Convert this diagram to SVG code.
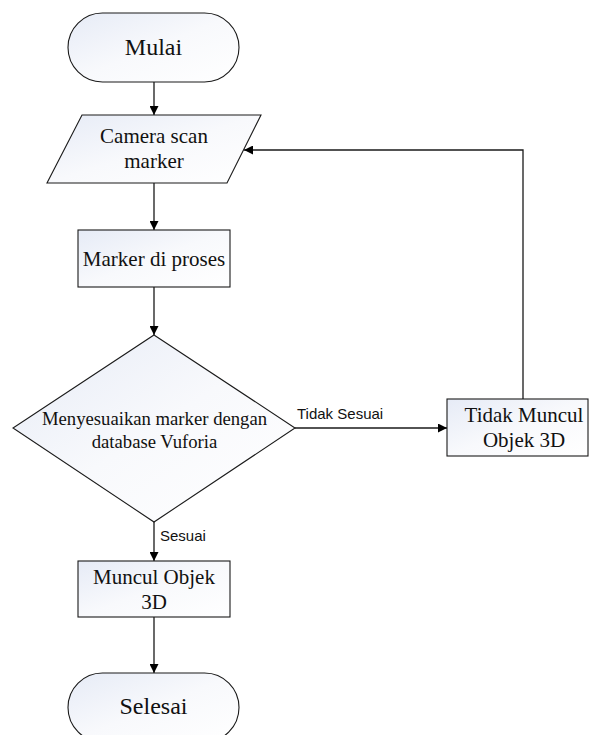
<svg xmlns="http://www.w3.org/2000/svg" width="590" height="735" viewBox="0 0 590 735">
  <defs>
    <linearGradient id="shapeFill" x1="0" y1="0" x2="1" y2="1">
      <stop offset="0" stop-color="#e6ebf6"/>
      <stop offset="0.5" stop-color="#f8f9fc"/>
      <stop offset="1" stop-color="#ffffff"/>
    </linearGradient>
    <marker id="arrow" markerUnits="userSpaceOnUse" markerWidth="10" markerHeight="9" refX="9" refY="4.5" orient="auto">
      <path d="M0,0 L9,4.5 L0,9 z" fill="#000"/>
    </marker>
    <style>
      .shape { fill: url(#shapeFill); stroke: #1a1a1a; stroke-width: 1.1; }
      .lbl { font-family: "Liberation Serif", "Times New Roman", serif; fill: #111; text-anchor: middle; }
      .edge { fill: none; stroke: #1a1a1a; stroke-width: 1.3; marker-end: url(#arrow); }
      .edge-lbl { font-family: "Liberation Sans", Arial, sans-serif; font-size: 15px; fill: #111; }
    </style>
  </defs>

  <rect width="590" height="735" fill="#ffffff"/>

  <!-- connectors -->
  <g id="connectors">
    <path class="edge" d="M154,82 V115"/>
    <path class="edge" d="M154,183 V230"/>
    <path class="edge" d="M154,287 V335"/>
    <path class="edge" d="M154,522 V561"/>
    <path class="edge" d="M154,617 V673"/>
    <path class="edge" d="M295,428 H447"/>
    <path class="edge" d="M523,399 V150 H244"/>
    <text class="edge-lbl" x="297" y="419">Tidak Sesuai</text>
    <text class="edge-lbl" x="160" y="541">Sesuai</text>
  </g>

  <!-- start -->
  <g id="start">
    <rect class="shape" x="68" y="13" width="171" height="69" rx="34.5" ry="34.5"/>
    <text class="lbl" x="153.5" y="55" font-size="24">Mulai</text>
  </g>

  <!-- input: camera scan -->
  <g id="scan">
    <polygon class="shape" points="82,115 261,115 227,183 47,183"/>
    <text class="lbl" x="154" y="143" font-size="21">Camera scan</text>
    <text class="lbl" x="154" y="168" font-size="21">marker</text>
  </g>

  <!-- process marker -->
  <g id="process">
    <rect class="shape" x="78" y="230" width="152" height="57"/>
    <text class="lbl" x="154" y="266" font-size="21">Marker di proses</text>
  </g>

  <!-- decision -->
  <g id="decision">
    <polygon class="shape" points="154,335 295,428 154,522 13,428"/>
    <text class="lbl" x="154.5" y="425" font-size="18.7">Menyesuaikan marker dengan</text>
    <text class="lbl" x="154.5" y="448" font-size="18.7">database Vuforia</text>
  </g>

  <!-- no match -->
  <g id="no-object">
    <rect class="shape" x="447" y="399" width="141" height="57"/>
    <text class="lbl" x="524" y="422" font-size="21">Tidak Muncul</text>
    <text class="lbl" x="524" y="447" font-size="21">Objek 3D</text>
  </g>

  <!-- match -->
  <g id="show-object">
    <rect class="shape" x="78" y="561" width="152" height="56"/>
    <text class="lbl" x="154" y="584" font-size="21">Muncul Objek</text>
    <text class="lbl" x="154" y="609" font-size="21">3D</text>
  </g>

  <!-- end -->
  <g id="end">
    <rect class="shape" x="68" y="673" width="171" height="69" rx="34.5" ry="34.5"/>
    <text class="lbl" x="153.5" y="714" font-size="24">Selesai</text>
  </g>
</svg>
